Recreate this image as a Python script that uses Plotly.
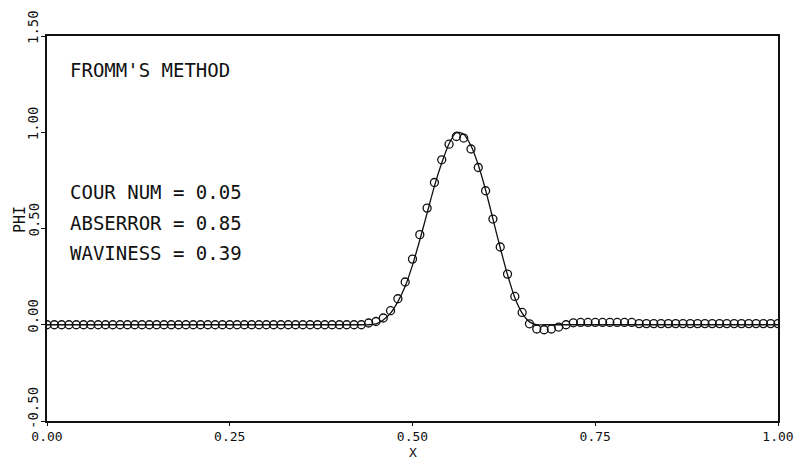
import plotly.graph_objects as go

# ---- data ----
x_num = [0.00, 0.01, 0.02, 0.03, 0.04, 0.05, 0.06, 0.07, 0.08, 0.09,
         0.10, 0.11, 0.12, 0.13, 0.14, 0.15, 0.16, 0.17, 0.18, 0.19,
         0.20, 0.21, 0.22, 0.23, 0.24, 0.25, 0.26, 0.27, 0.28, 0.29,
         0.30, 0.31, 0.32, 0.33, 0.34, 0.35, 0.36, 0.37, 0.38, 0.39,
         0.40, 0.41, 0.42, 0.43, 0.44, 0.45, 0.46, 0.47, 0.48, 0.49,
         0.50, 0.51, 0.52, 0.53, 0.54, 0.55, 0.56, 0.57, 0.58, 0.59,
         0.60, 0.61, 0.62, 0.63, 0.64, 0.65, 0.66, 0.67, 0.68, 0.69,
         0.70, 0.71, 0.72, 0.73, 0.74, 0.75, 0.76, 0.77, 0.78, 0.79,
         0.80, 0.81, 0.82, 0.83, 0.84, 0.85, 0.86, 0.87, 0.88, 0.89,
         0.90, 0.91, 0.92, 0.93, 0.94, 0.95, 0.96, 0.97, 0.98, 0.99, 1.00]

phi_num = [0.0] * 44 + [
    0.009, 0.017, 0.035, 0.073, 0.135, 0.222, 0.341, 0.468, 0.606, 0.739,
    0.857, 0.938, 0.978, 0.970, 0.913, 0.817, 0.696, 0.549, 0.404, 0.263,
    0.147, 0.064, 0.005, -0.022, -0.026, -0.022, -0.012, 0.000, 0.010,
    0.012, 0.012, 0.012, 0.012, 0.012, 0.012, 0.012, 0.012,
    0.006, 0.006, 0.006, 0.006, 0.006, 0.006, 0.006, 0.006, 0.006, 0.006,
    0.006, 0.006, 0.006, 0.006, 0.006, 0.006, 0.006, 0.006, 0.006, 0.006]

x_exact = [0.00, 0.40, 0.43, 0.44, 0.45, 0.46, 0.47, 0.48, 0.49, 0.50, 0.51,
           0.52, 0.53, 0.54, 0.55, 0.56, 0.57, 0.58, 0.59, 0.60, 0.61,
           0.62, 0.63, 0.64, 0.65, 0.66, 0.67, 0.68, 0.72, 1.00]
phi_exact = [0.0, 0.0, 0.0, 0.0, 0.005, 0.025, 0.06, 0.12, 0.20, 0.31, 0.44,
             0.58, 0.72, 0.84, 0.94, 1.00, 0.99, 0.93, 0.83, 0.70, 0.55,
             0.40, 0.26, 0.14, 0.06, 0.015, 0.0, 0.0, 0.0, 0.0]

x_ticks = [0.0, 0.25, 0.5, 0.75, 1.0]
x_tick_text = ["0.00", "0.25", "0.50", "0.75", "1.00"]
y_ticks = [-0.5, 0.0, 0.5, 1.0, 1.5]
y_tick_text = ["-0.50", "0.00", "0.50", "1.00", "1.50"]

title_text = "FROMM'S METHOD"
info_lines = ["COUR NUM = 0.05", "ABSERROR = 0.85", "WAVINESS = 0.39"]

FONT = "DejaVu Sans Mono"
INK = "#111111"

fig = go.Figure()
fig.add_trace(go.Scatter(x=x_exact, y=phi_exact, mode="lines",
                         line=dict(color=INK, width=1.3, shape="spline", smoothing=0.6),
                         showlegend=False, hoverinfo="skip"))
fig.add_trace(go.Scatter(x=x_num, y=phi_num, mode="markers",
                         marker=dict(symbol="circle-open", size=8, color=INK,
                                     line=dict(width=1.3, color=INK)),
                         showlegend=False))

fig.update_xaxes(range=[0, 1], tickvals=x_ticks, ticktext=x_tick_text,
                 showgrid=False, zeroline=False, showline=True, mirror=True,
                 linecolor=INK, linewidth=1.5, ticks="outside", ticklen=3,
                 tickcolor=INK, automargin=False,
                 tickfont=dict(family=FONT, size=13, color=INK))
fig.update_yaxes(range=[-0.5, 1.5], tickvals=y_ticks, showticklabels=False,
                 showgrid=False, zeroline=False, showline=True, mirror=True,
                 linecolor=INK, linewidth=1.5, ticks="outside", ticklen=4,
                 tickcolor=INK, automargin=False)

ann = []
for v, t in zip(y_ticks, y_tick_text):
    ann.append(dict(x=0, y=v, xref="paper", yref="y", text=t, showarrow=False,
                    textangle=-90, xanchor="right", yanchor="bottom",
                    xshift=-4, yshift=-10,
                    font=dict(family=FONT, size=14, color=INK)))
ann.append(dict(x=0.029, y=1.5 - (70 - 36) / 192.5, xref="paper", yref="y",
                text=title_text, showarrow=False, xanchor="left", yanchor="middle",
                font=dict(family=FONT, size=19, color=INK)))
for i, t in enumerate(info_lines):
    ann.append(dict(x=0.029, y=1.5 - (192 - 36 + 30.5 * i) / 192.5, xref="paper", yref="y",
                    text=t, showarrow=False, xanchor="left", yanchor="middle",
                    font=dict(family=FONT, size=19, color=INK)))
ann.append(dict(x=0.5, y=0, xref="paper", yref="paper", text="X", showarrow=False,
                xanchor="center", yanchor="bottom", yshift=-41,
                font=dict(family=FONT, size=13, color=INK)))
ann.append(dict(x=0, y=1.5 - (220 - 36) / 192.5, xref="paper", yref="y", text="PHI",
                showarrow=False, textangle=-90, xanchor="center", yanchor="middle",
                xshift=-27, font=dict(family=FONT, size=15, color=INK)))

fig.update_layout(width=810, height=462, margin=dict(l=47, r=32, t=36, b=41, autoexpand=False),
                  paper_bgcolor="white", plot_bgcolor="white",
                  annotations=ann)

fig.write_html("out.html", config={"displayModeBar": False},
               post_script="document.body.style.margin='0';document.body.style.overflow='hidden';")
